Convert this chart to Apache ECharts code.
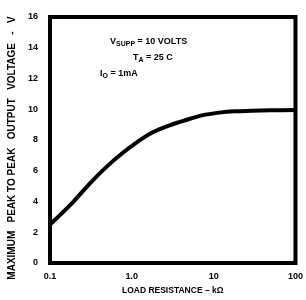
<!DOCTYPE html>
<html><head><meta charset="utf-8">
<script src="https://cdn.jsdelivr.net/npm/echarts@6/dist/echarts.min.js"></script>
<style>html,body{margin:0;padding:0;background:#fff}#c{width:306px;height:300px}</style>
</head><body><div id="c"></div>
<script>
const loadResistance = [0.1, 0.19, 0.31, 0.49, 0.77, 1.15, 1.8, 2.9, 4.6, 7.2, 11.7, 18, 29, 50, 100];
const outputVoltage  = [2.5, 3.95, 5.2, 6.25, 7.15, 7.85, 8.5, 8.95, 9.3, 9.6, 9.78, 9.87, 9.9, 9.93, 9.95];
const xTickLabels = {"0.1": "0.1", "1": "1.0", "10": "10", "100": "100"};
const yTicks = [0, 2, 4, 6, 8, 10, 12, 14, 16];

const chart = echarts.init(document.getElementById('c'), null, {renderer: 'canvas'});
const font = 'Liberation Sans';
const richStyle = {m: {fill: '#000', font: 'bold 9px ' + font}, s: {fill: '#000', font: 'bold 7px ' + font, padding: [4, 0, 0, 0]}};
chart.setOption({
  animation: false,
  backgroundColor: '#fff',
  grid: {left: 50, right: 9, top: 17, bottom: 36, show: true, borderColor: '#000', borderWidth: 4, backgroundColor: 'transparent'},
  xAxis: {
    type: 'log', logBase: 10, min: 0.1, max: 100,
    axisLine: {show: false}, splitLine: {show: false},
    axisTick: {show: false}, minorTick: {show: false},
    axisLabel: {
      color: '#000', fontFamily: font, fontWeight: 'bold', fontSize: 9, margin: 9,
      formatter: v => { const k = String(+(+v).toPrecision(3)); return xTickLabels[k] !== undefined ? xTickLabels[k] : ''; }
    },
    name: 'LOAD RESISTANCE – kΩ', nameLocation: 'middle', nameGap: 23,
    nameTextStyle: {color: '#000', fontFamily: font, fontWeight: 'bold', fontSize: 8.5}
  },
  yAxis: {
    type: 'value', min: yTicks[0], max: yTicks[yTicks.length - 1], interval: 2,
    axisLine: {show: false}, splitLine: {show: false},
    axisTick: {show: false},
    axisLabel: {color: '#000', fontFamily: font, fontWeight: 'bold', fontSize: 9, margin: 12}
  },
  graphic: [
    {type: 'text', x: 12, y: 148, rotation: Math.PI / 2,
     style: {text: 'MAXIMUM   PEAK TO PEAK   OUTPUT   VOLTAGE   -   V', fill: '#000', font: 'bold 10px ' + font, align: 'center', verticalAlign: 'middle'}},
    {type: 'text', x: 110, y: 42,
     style: {text: '{m|V}{s|SUPP}{m| = 10 VOLTS}', verticalAlign: 'middle', rich: richStyle}},
    {type: 'text', x: 133, y: 58,
     style: {text: '{m|T}{s|A}{m| = 25 C}', verticalAlign: 'middle', rich: richStyle}},
    {type: 'text', x: 100, y: 74,
     style: {text: '{m|I}{s|O}{m| = 1mA}', verticalAlign: 'middle', rich: richStyle}}
  ],
  series: [{
    type: 'line', smooth: 0.3, symbol: 'none',
    lineStyle: {color: '#000', width: 4},
    data: loadResistance.map((x, i) => [x, outputVoltage[i]])
  }]
});
</script></body></html>
